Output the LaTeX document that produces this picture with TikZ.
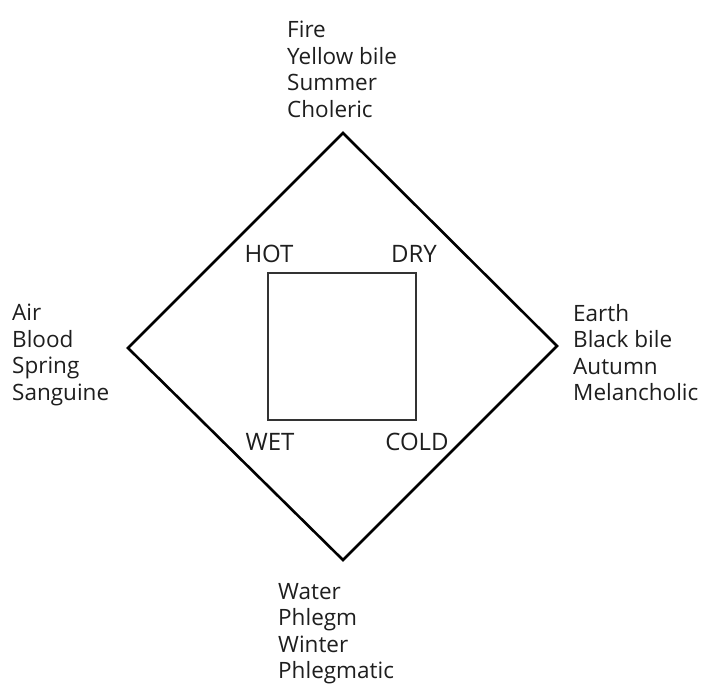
\documentclass[tikz,border=0pt]{standalone}
\usepackage{fontspec}
\setmainfont{Open Sans}
\usetikzlibrary{calc}
\definecolor{ink}{HTML}{1e1e1e}
\tikzset{
	blk/.style={anchor=north west,inner sep=0pt,align=left,text=ink,font=\fontsize{22.5}{26.5}\selectfont},
	qual/.style={inner sep=0pt,text=ink,font=\fontsize{24}{26}\selectfont},
	rim/.style={draw=black,line width=2.6pt,line join=miter},
	box/.style={draw=black!80,line width=1.6pt}
}
\begin{document}
\begin{tikzpicture}[x=1pt,y=-1pt]
	\useasboundingbox (0,0) rectangle (706,686);
	% the diamond of elements
	\coordinate (t) at (343,133);
	\coordinate (r) at (557,346);
	\coordinate (b) at (343,560);
	\coordinate (l) at (128,348);
	\draw [rim] (t)--(r)--(b)--(l)-- cycle;
	% the square of qualities
	\coordinate (sq1) at (268,273);
	\coordinate (sq2) at (416,420);
	\draw [box] (sq1) rectangle (sq2);
	\node [qual] (hot) at (269,254) {HOT};
	\node [qual] (dry) at (414,254) {DRY};
	\node [qual] (wet) at (270,442) {WET};
	\node [qual] (cold) at (417,442) {COLD};
	% the four humours
	\node [blk] (fire) at (287,21) {Fire\\Yellow bile\\Summer\\Choleric};
	\node [blk] (air) at (12,304) {Air\\Blood\\Spring\\Sanguine};
	\node [blk] (earth) at (573,304) {Earth\\Black bile\\Autumn\\Melancholic};
	\node [blk] (water) at (278,583) {Water\\Phlegm\\Winter\\Phlegmatic};
\end{tikzpicture}
\end{document}
